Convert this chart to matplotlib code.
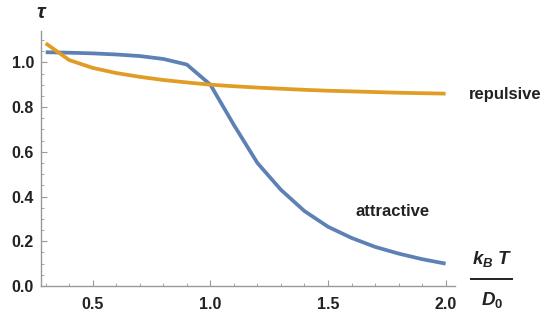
"""Relaxation time tau vs k_B T / D_0 for attractive and repulsive cases."""

import matplotlib
matplotlib.use('Agg')
import matplotlib.pyplot as plt
from matplotlib.lines import Line2D
from matplotlib.ticker import MultipleLocator

plt.rcParams['font.family'] = 'Liberation Sans'
plt.rcParams['mathtext.fontset'] = 'custom'
plt.rcParams['mathtext.it'] = 'Liberation Sans:italic:bold'
plt.rcParams['mathtext.rm'] = 'Liberation Sans:bold'

temperature = [0.3, 0.4, 0.5, 0.6, 0.7, 0.8, 0.9, 1.0, 1.1, 1.2,
               1.3, 1.4, 1.5, 1.6, 1.7, 1.8, 1.9, 2.0]
tau_attractive = [1.045, 1.043, 1.04, 1.035, 1.028, 1.015, 0.99, 0.90, 0.72, 0.55,
                  0.43, 0.335, 0.265, 0.215, 0.175, 0.145, 0.12, 0.10]
tau_repulsive = [1.085, 1.01, 0.975, 0.952, 0.935, 0.921, 0.91, 0.90, 0.893, 0.887,
                 0.882, 0.877, 0.873, 0.87, 0.867, 0.864, 0.862, 0.86]
y_ticks = [0.0, 0.2, 0.4, 0.6, 0.8, 1.0]

W, H = 543, 322
ink = '#222222'
fig = plt.figure(figsize=(W / 100, H / 100), dpi=100)
ax = fig.add_axes([41 / W, 36 / H, (455 - 41) / W, (286 - 31) / H])

blue = '#5E81B5'
orange = '#E19C24'
ax.plot(temperature, tau_attractive, color=blue, lw=2.7, solid_capstyle='butt')
ax.plot(temperature, tau_repulsive, color=orange, lw=2.7, solid_capstyle='butt')

ax.set_xlim(0.28, 2.04)
ax.set_ylim(0.0, 1.14)
ax.xaxis.set_major_locator(MultipleLocator(0.5))
ax.xaxis.set_minor_locator(MultipleLocator(0.1))
ax.set_yticks(y_ticks)
ax.set_yticklabels(['{:.1f}'.format(v) for v in y_ticks])
ax.yaxis.set_minor_locator(MultipleLocator(0.05))

for side in ('top', 'right'):
    ax.spines[side].set_visible(False)
for side in ('left', 'bottom'):
    ax.spines[side].set_color('#999999')
    ax.spines[side].set_linewidth(1.0)
ax.tick_params(which='both', direction='in', color='#999999')
ax.tick_params(which='major', length=4, width=0.8)
ax.tick_params(which='minor', length=2.5, width=0.6)
ax.tick_params(axis='x', pad=8)
ax.tick_params(axis='y', pad=5)
for lab in ax.get_xticklabels() + ax.get_yticklabels():
    lab.set_fontsize(11.5)
    lab.set_fontweight('bold')
    lab.set_color(ink)

fig.text(42 / W, 1 - 13 / H, r'$\tau$', fontsize=15, ha='center', va='center',
         color=ink)
fig.text(505 / W, 1 - 95 / H, 'repulsive', fontsize=12, fontweight='bold',
         ha='center', va='center', color=ink)
fig.text(393 / W, 1 - 212 / H, 'attractive', fontsize=12, fontweight='bold',
         ha='center', va='center', color=ink)

# x label drawn as a fraction to the right of the axis
fig.text(492 / W, 1 - 259 / H, r'$k_B\ T$', fontsize=13.5, ha='center',
         va='center', color=ink)
fig.add_artist(Line2D([471 / W, 512 / W], [1 - 279 / H, 1 - 279 / H],
                      transform=fig.transFigure, color=ink, lw=1.4))
fig.text(492 / W, 1 - 300 / H, r'$D_{\mathit{0}}$', fontsize=13.5, ha='center',
         va='center', color=ink)

fig.savefig('out.png', dpi=100)
